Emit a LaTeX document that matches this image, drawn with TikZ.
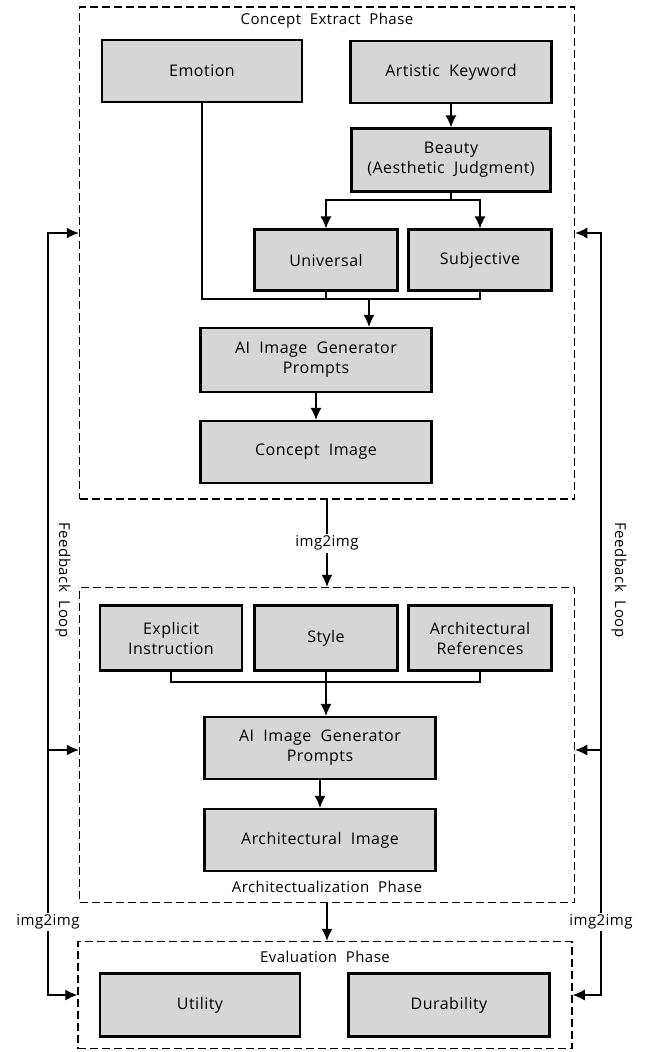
\documentclass[tikz,border=0pt]{standalone}
\usepackage{fontspec}
\setmainfont{Open Sans}[LetterSpace=3,WordSpace=2]
\usetikzlibrary{arrows.meta}

\begin{document}
\begin{tikzpicture}[x=1pt,y=-1pt,
    box/.style={draw,line width=2.2pt,fill=black!16,align=center,
      inner sep=0pt,font=\fontsize{16}{20}\selectfont},
    frame/.style={draw,line width=1.5pt,dash pattern=on 8pt off 4pt,inner sep=0pt},
    arr/.style={line width=1.2pt,-{Latex[length=12pt,width=11pt]}},
    wire/.style={line width=1.2pt},
    lbl/.style={fill=white,inner sep=2pt,font=\fontsize{15}{18}\selectfont}]
      \useasboundingbox (0,0) rectangle (661,1052);
      % phase frames
      \def \Frames{
        ph1/327/253/495/492,
        ph2/327/745/495/315,
        ph3/325/995/494/107}
      \foreach \id / \x / \y / \w / \h in \Frames{
        \node[frame,minimum width=\w pt,minimum height=\h pt] (\id) at (\x, \y) {};
      }
      \node[lbl] (t1) at (327,21) {Concept Extract Phase};
      \node[lbl] (t2) at (327,887) {Architectualization Phase};
      \node[lbl] (t3) at (325,957) {Evaluation Phase};
      % boxes
      \def \Boxes{
        emo/202/71/200/62/Emotion,
        art/451/72/201/62/Artistic Keyword,
        beauty/451/160/199/63/Beauty\\(Aesthetic Judgment),
        univ/326/260/143/61/Universal,
        subj/480/260/143/61/Subjective,
        aipa/316/360/231/64/AI Image Generator\\Prompts,
        cimg/316/452/231/62/Concept Image,
        expl/171/638/142/65/Explicit\\Instruction,
        style/326/638/143/65/Style,
        aref/480/638/143/65/Architectural\\References,
        aipb/320/748/231/62/AI Image Generator\\Prompts,
        aimg/320/840/231/62/Architectural Image,
        util/200/1005/200/63/Utility,
        dura/449/1005/201/63/Durability}
      \foreach \id / \x / \y / \w / \h / \txt in \Boxes{
        \node[box,minimum width=\w pt,minimum height=\h pt] (\id) at (\x, \y) {\txt};
      }
      % concept phase
      \coordinate (bsplit) at (451,200);
      \coordinate (cjoin) at (369,299);
      \draw[arr] (art) -- (beauty);
      \draw[wire] (beauty) -- (bsplit);
      \draw[arr] (bsplit) -| (univ.north);
      \draw[arr] (bsplit) -| (subj.north);
      \draw[wire] (emo.south) |- (subj.south |- cjoin) -- (subj.south);
      \draw[wire] (univ.south) -- (univ.south |- cjoin);
      \draw[arr] (cjoin) -- (cjoin |- aipa.north);
      \draw[arr] (aipa) -- (cimg);
      % architectualization phase
      \coordinate (ajoin) at (326,682);
      \draw[wire] (expl.south) |- (ajoin) -| (aref.south);
      \draw[arr] (style) -- (style |- aipb.north);
      \draw[arr] (aipb) -- (aimg);
      % between phases
      \draw[arr] (ph1.south) -- node[lbl] (m1) {img2img} (ph2.north);
      \draw[arr] (ph2.south) -- (ph2.south |- ph3.north);
      % feedback loops
      \coordinate (lt) at (48,233);
      \coordinate (lm) at (48,750);
      \coordinate (lb) at (48,995);
      \coordinate (rt) at (601,233);
      \coordinate (rm) at (601,750);
      \coordinate (rb) at (601,995);
      \draw[arr,{Latex[length=12pt,width=11pt]}-{Latex[length=12pt,width=11pt]}]
        (ph1.west |- lt) -- (lt) -- (lb) -- (ph3.west |- lb);
      \draw[arr,{Latex[length=12pt,width=11pt]}-{Latex[length=12pt,width=11pt]}]
        (ph1.east |- rt) -- (rt) -- (rb) -- (ph3.east |- rb);
      \draw[arr] (lm) -- (ph2.west |- lm);
      \draw[arr] (rm) -- (ph2.east |- rm);
      \node[lbl] (il) at (48,922) {img2img};
      \node[lbl] (ir) at (601,922) {img2img};
      \node[lbl,fill=none,rotate=-90] (fl) at (63,580) {Feedback Loop};
      \node[lbl,fill=none,rotate=-90] (fr) at (619,580) {Feedback Loop};
    \end{tikzpicture}
\end{document}
